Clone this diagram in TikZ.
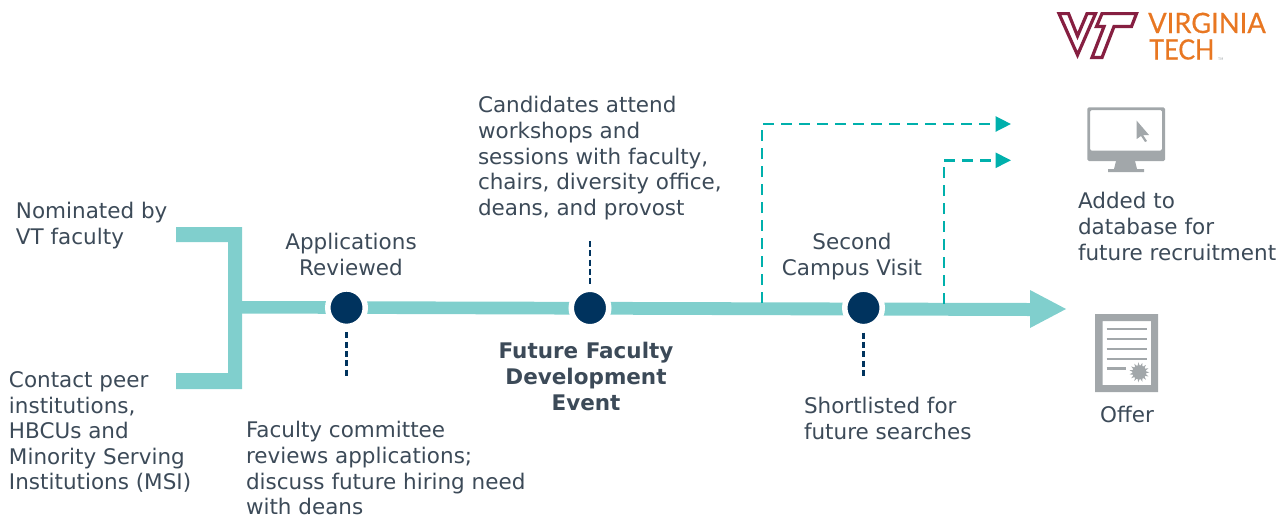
\documentclass[tikz,border=0pt]{standalone}
\usepackage{fontspec}
\setmainfont{DejaVu Sans}
\newfontfamily\logofontA[FakeBold=0.5,FakeStretch=0.975]{Lato}
\newfontfamily\logofontB[FakeBold=0.5,FakeStretch=0.9]{Lato}
\usetikzlibrary{arrows.meta,calc}
\definecolor{teal1}{HTML}{80CFCD}
\definecolor{teal2}{HTML}{00B0AC}
\definecolor{navy}{HTML}{00335E}
\definecolor{txt}{HTML}{3C4A58}
\definecolor{iconGray}{HTML}{A2A7AA}
\definecolor{vtMaroon}{HTML}{861F41}
\definecolor{vtOrange}{HTML}{E87722}
\tikzset{
  x=1pt,y=-1pt,
  lbl/.style={inner sep=0pt,outer sep=0pt,text=txt,font=\fontsize{21.5pt}{25.6pt}\selectfont},
  lblL/.style={lbl,align=left,anchor=north west},
  lblC/.style={lbl,align=center,anchor=north},
  band/.style={draw=none,fill=teal1},
  dot/.style={circle,fill=navy,draw=white,line width=5.5pt,minimum size=37.5pt,inner sep=0pt,outer sep=0pt},
  dashN/.style={draw=navy,line width=2.7pt,dash pattern=on 6pt off 3.3pt},
  dashT/.style={draw=teal2,line width=2.7pt,dash pattern=on 11pt off 7pt},
  tipT/.style={-{Triangle[length=15.5pt,width=15pt]}},
  grayfill/.style={fill=iconGray,draw=none},
  grayline/.style={draw=iconGray,line width=2.5pt},
  logoLine/.style={draw=vtMaroon,line width=3.2pt,fill=white,miter limit=10,line join=miter},
}
\begin{document}
\begin{tikzpicture}
\useasboundingbox (0,0) rectangle (1281,515);
% coordinates
\coordinate (visitA) at (762,303);
\coordinate (visitAt) at (1011,124);
\coordinate (visitB) at (944,304);
\coordinate (visitBt) at (1011,160.3);
% bands
\fill[band] (176,227) -- (242,227) -- (242,389) -- (176,389) -- (176,373) -- (228,373) -- (228,242) -- (176,242) -- cycle;
\fill[band] (242,301) -- (1030,303) -- (1030,290) -- (1066,309) -- (1030,328) -- (1030,316) -- (242,313.5) -- cycle;
% dashed teal
\draw[dashT,tipT] (visitA) -- (visitA |- visitAt) -- (visitAt);
\draw[dashT,tipT] (visitB) -- (visitB |- visitBt) -- (visitBt);
% dots
\node[dot] (d1) at (346.5,307.7) {};
\node[dot] (d2) at (590,308) {};
\node[dot] (d3) at (863.5,307.9) {};
\coordinate (d1e) at (346.5,376);
\coordinate (d2e) at (590,241);
\coordinate (d3e) at (863.5,378);
\draw[dashN] ($(d1.south)+(0,6)$) -- (d1e);
\draw[dashN] (d2e) -- ($(d2.north)+(0,-2)$);
\draw[dashN] ($(d3.south)+(0,6)$) -- (d3e);
% labels
\node[lblL] (t1) at (16,202.5) {Nominated by\\VT faculty};
\node[lblL] (t2) at (9,371.5) {Contact peer\\institutions,\\HBCUs and\\Minority Serving\\Institutions (MSI)};
\node[lblC] (t3) at (351,233.5) {Applications\\Reviewed};
\node[lblL] (t4) at (246,421.5) {Faculty committee\\reviews applications;\\discuss future hiring need\\with deans};
\node[lblL] (t5) at (478,96.5) {Candidates attend\\workshops and\\sessions with faculty,\\chairs, diversity office,\\deans, and provost};
\node[lblC,font=\fontsize{21.5pt}{25.6pt}\selectfont\bfseries] (t6) at (586,342.5) {Future Faculty\\Development\\Event};
\node[lblC] (t7) at (852,233.5) {Second\\Campus Visit};
\node[lblL] (t8) at (804,397.5) {Shortlisted for\\future searches};
\node[lblL] (t9) at (1078,192.5) {Added to\\database for\\future recruitment};
\node[lblC] (t10) at (1127,406.5) {Offer};
% monitor icon
\fill[grayfill,rounded corners=1.5pt,even odd rule] (1087.3,107.3) rectangle (1165,161) (1090,110) rectangle (1162,150.7);
\fill[grayfill] (1116,161) -- (1135,161) -- (1137,169) -- (1144,169) -- (1144,172) -- (1108,172) -- (1108,169) -- (1114,169) -- cycle;
\fill[grayfill] (1136.7,120.7) -- (1149,135) -- (1143,135) -- (1147,141) -- (1145,142) -- (1141,136) -- (1136.7,139) -- cycle;
% certificate icon
\fill[grayfill,even odd rule] (1095,314) rectangle (1158,392) (1102.7,321) rectangle (1151,385);
\foreach \yy in {329,339,349,359}{\draw[grayline] (1106.7,\yy) -- (1147,\yy);}
\draw[grayline] (1106.7,368.5) -- (1125.5,368.5);
\fill[iconGray] (1139.3,372.3) circle (7pt);
\foreach \aa in {0,24,...,336}{\fill[iconGray] ($(1139.3,372.3)+(\aa:10pt)$) -- ($(1139.3,372.3)+(\aa+12:6pt)$) -- ($(1139.3,372.3)+(\aa-12:6pt)$) -- cycle;}
% logo
\node[inner sep=0pt,anchor=base west,text=vtOrange,font=\logofontA\fontsize{28pt}{28pt}\selectfont] (vir) at (1148,33) {VIRGINIA};
\node[inner sep=0pt,anchor=base west,text=vtOrange,font=\logofontB\fontsize{28pt}{28pt}\selectfont] (tec) at (1149,59.5) {TECH};
\node[inner sep=0pt,anchor=base west,text=iconGray,font=\fontsize{3.5pt}{4pt}\selectfont] (tmk) at (1218,60) {TM};
\draw[logoLine] (1059,13.6) -- (1077.5,55) -- (1095.5,13.6) -- (1087,13.6) -- (1077.5,36) -- (1068.5,13.6) -- cycle;
\draw[logoLine] (1102,13.6) -- (1136.5,13.6) -- (1131.5,26.5) -- (1114,26.5) -- (1102,57.5) -- (1092,57.5) -- (1104,26.5) -- (1096.5,26.5) -- cycle;
\end{tikzpicture}
\end{document}
